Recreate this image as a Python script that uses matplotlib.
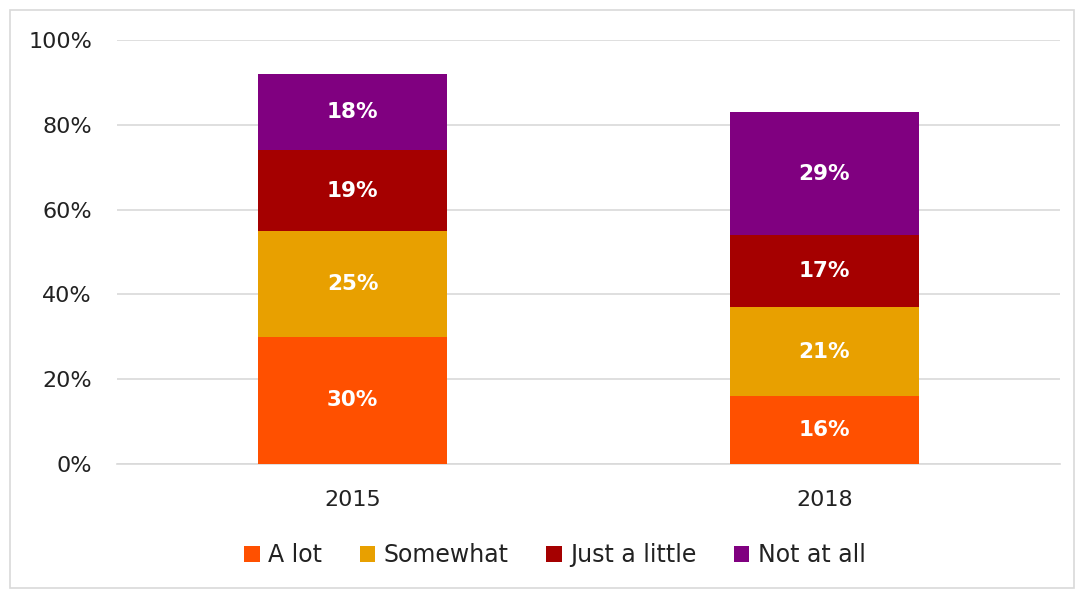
import matplotlib
matplotlib.use("Agg")
import matplotlib.pyplot as plt
from matplotlib.patches import Rectangle
from matplotlib.ticker import FuncFormatter

years = ["2015", "2018"]
series_names = ["A lot", "Somewhat", "Just a little", "Not at all"]
a_lot = [30, 16]
somewhat = [25, 21]
just_a_little = [19, 17]
not_at_all = [18, 29]
colors = ["#FF5000", "#E8A000", "#A50000", "#800080"]

plt.rcParams['font.family'] = ['DejaVu Sans']

fig = plt.figure(figsize=(10.8, 5.9), dpi=100)
ax = fig.add_axes([117/1080, 126/590, (1060-117)/1080, (464-40)/590])

x = list(range(len(years)))
bottom = [0]*len(years)
for name, vals, c in zip(series_names, [a_lot, somewhat, just_a_little, not_at_all], colors):
    ax.bar(x, vals, width=0.4, bottom=bottom, color=c, label=name, zorder=3)
    for xi, v, b in zip(x, vals, bottom):
        ax.text(xi, b + v/2, f"{v}%", ha="center", va="center", color="white",
                fontsize=15.5, fontweight="bold", zorder=4)
    bottom = [b + v for b, v in zip(bottom, vals)]

ax.set_xlim(-0.5, 1.5)
ax.set_ylim(0, 100)
ax.set_yticks([0, 20, 40, 60, 80, 100])
ax.yaxis.set_major_formatter(FuncFormatter(lambda v, p: f"{int(v)}%"))
ax.set_xticks(x)
ax.set_xticklabels(years)
ax.tick_params(axis="both", length=0, labelsize=16, colors="#222222")
ax.tick_params(axis="y", pad=18)
ax.tick_params(axis="x", pad=19)
ax.grid(axis="y", color="#D9D9D9", linewidth=1.2, zorder=0)
for s in ["top", "right", "left"]:
    ax.spines[s].set_visible(False)
ax.spines["bottom"].set_color("#D9D9D9")
ax.spines["bottom"].set_linewidth(1.2)

fig.legend(loc="center", bbox_to_anchor=(555/1080, 1 - 555/590), ncol=4, frameon=False,
           fontsize=17, handlelength=0.65, handleheight=0.65, handletextpad=0.35,
           columnspacing=1.6, labelcolor="#222222")

fig.patches.append(Rectangle((10/1080, 2/590), 1064/1080, 578/590, transform=fig.transFigure,
                             fill=False, edgecolor="#D9D9D9", linewidth=1.2))

fig.savefig("out.png", dpi=100)
